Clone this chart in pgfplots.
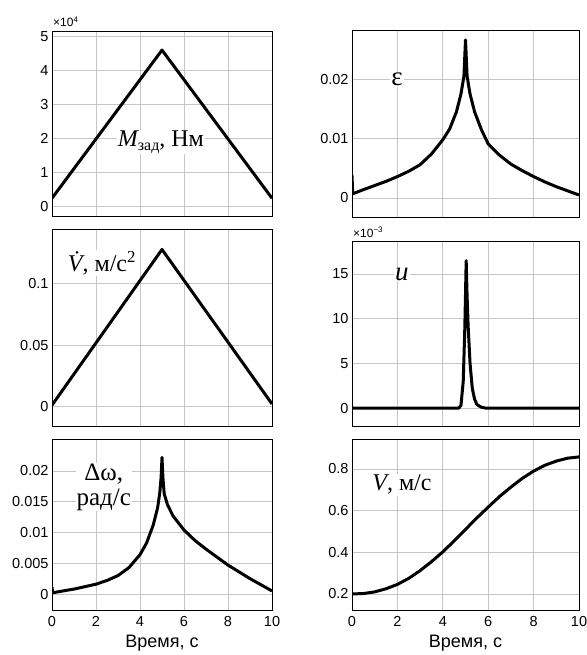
\documentclass[border=0pt]{standalone}
\usepackage{fontspec}
\setmainfont{Liberation Sans}
\newfontfamily\tnr{Liberation Serif}
\usepackage{pgfplots}
\pgfplotsset{compat=1.18}

\pgfplotsset{
  panel/.style={
    scale only axis, anchor=north west,
    xmin=0, xmax=10, xtick={0,2,...,10},
    grid=major, grid style={gray!45, line width=0.8pt},
    axis line style={line width=1pt},
    major tick length=0pt,
    scaled y ticks=false,
    /pgf/number format/assume math mode=true,
    /pgf/number format/fixed,
    /pgf/number format/precision=3,
    tick label style={font=\fontsize{14.5}{14.5}\selectfont},
    xticklabel style={yshift=-3pt},
    every axis plot post/.append style={line width=3pt, line join=round, black, mark=none},
  },
  notx/.style={xticklabels={}},
  bottomx/.style={xlabel={Время, с}, xlabel style={font=\fontsize{18}{18}\selectfont, yshift=-1pt}},
}
\tikzset{
  lbl/.style={font=\tnr\fontsize{24}{26}\selectfont, fill=white, inner sep=1pt, align=center},
  scl/.style={font=\fontsize{12}{12}\selectfont, anchor=base west, inner sep=0pt},
}

\begin{document}
\begin{tikzpicture}
\path[use as bounding box] (0,0) rectangle (586pt,-655pt);

% M_zad, x10^4
\begin{axis}[panel, notx, at={(52pt,-32pt)}, width=220pt, height=185pt,
  ymin=-0.3, ymax=5.12, ytick={0,1,...,5}]
\addplot coordinates {(0,0.25)(5,4.59)(10,0.25)};
\node[lbl] at (axis cs:4.95,1.9) {{\itshape M}\raisebox{-0.35ex}{\fontsize{16}{16}\selectfont зад}, Нм};
\end{axis}
\node[scl] at (53pt,-27pt) {×10\textsuperscript{4}};

% epsilon
\begin{axis}[panel, notx, at={(352pt,-31pt)}, width=227pt, height=186pt,
  ymin=-0.0032, ymax=0.0281, ytick={0,0.01,0.02}]
\addplot coordinates {(0,0.0038)(0.03,0.0007)(0.5,0.0014)(1,0.0021)(1.5,0.0028)
  (2,0.0036)(2.5,0.0045)(3,0.0056)(3.5,0.0074)(4,0.0098)(4.3,0.0116)(4.6,0.0145)
  (4.8,0.0175)(4.93,0.0205)(5,0.0266)(5.07,0.0205)(5.2,0.0175)(5.4,0.0145)
  (5.7,0.0115)(6,0.0091)(6.5,0.0072)(7,0.0057)(7.5,0.0046)(8,0.0036)(8.5,0.0027)
  (9,0.0019)(9.5,0.0012)(10,0.0005)};
\node[lbl, font=\tnr\fontsize{27}{27}\selectfont] at (axis cs:1.98,0.02) {ε};
\end{axis}

% dV/dt
\begin{axis}[panel, notx, at={(52pt,-229pt)}, width=220pt, height=197pt,
  ymin=-0.016, ymax=0.1447, ytick={0,0.05,0.1}]
\addplot coordinates {(0,0.001)(5,0.128)(10,0.002)};
\node[lbl] at (axis cs:2.27,0.117) {{\itshape \.V}, м/с\textsuperscript{2}};
\end{axis}

% u, x10^-3
\begin{axis}[panel, notx, at={(352pt,-241pt)}, width=227pt, height=185pt,
  ymin=-2, ymax=18.7, ytick={0,5,10,15}]
\addplot coordinates {(0,0)(4.7,0)(4.8,0.3)(4.9,3)(4.97,9)(5.03,16.5)(5.07,12.5)
  (5.12,9)(5.2,5)(5.3,2.2)(5.4,1)(5.5,0.4)(5.7,0.1)(5.9,0)(10,0)};
\node[lbl, font=\tnr\fontsize{27}{27}\selectfont] at (axis cs:2.2,15) {\itshape u};
\end{axis}
\node[scl] at (353pt,-237pt) {×10\textsuperscript{−3}};

% delta omega
\begin{axis}[panel, bottomx, at={(52pt,-439pt)}, width=220pt, height=171pt,
  ymin=-0.0026, ymax=0.0252, ytick={0,0.005,...,0.02}]
\addplot coordinates {(0,0.0011)(0.03,0.0002)(0.5,0.0005)(1,0.0008)(1.5,0.0012)
  (2,0.0016)(2.5,0.0022)(3,0.003)(3.5,0.0043)(4,0.0064)(4.3,0.0083)(4.6,0.0112)
  (4.8,0.014)(4.9,0.0165)(4.96,0.019)(5,0.0222)(5.04,0.019)(5.1,0.0163)
  (5.25,0.0145)(5.5,0.0127)(6,0.0104)(6.5,0.0087)(7,0.0073)(7.5,0.006)
  (8,0.0047)(8.5,0.0036)(9,0.0025)(9.5,0.0015)(10,0.0005)};
\node[lbl, font=\tnr\fontsize{25}{25}\selectfont] at (axis cs:2.35,0.0174) {Δω,\\рад/с};
\end{axis}

% V
\begin{axis}[panel, bottomx, at={(352pt,-439pt)}, width=227pt, height=171pt,
  ymin=0.123, ymax=0.944, ytick={0.2,0.4,0.6,0.8}]
\addplot coordinates {(0,0.2)(0.5,0.202)(1,0.21)(1.5,0.225)(2,0.246)(2.5,0.275)
  (3,0.312)(3.5,0.355)(4,0.402)(4.5,0.455)(5,0.51)(5.5,0.565)(6,0.617)(6.5,0.668)
  (7,0.713)(7.5,0.755)(8,0.79)(8.5,0.818)(9,0.838)(9.5,0.852)(10,0.858)};
\node[lbl] at (axis cs:2.2,0.724) {{\itshape V}, м/с};
\end{axis}
\end{tikzpicture}
\end{document}
